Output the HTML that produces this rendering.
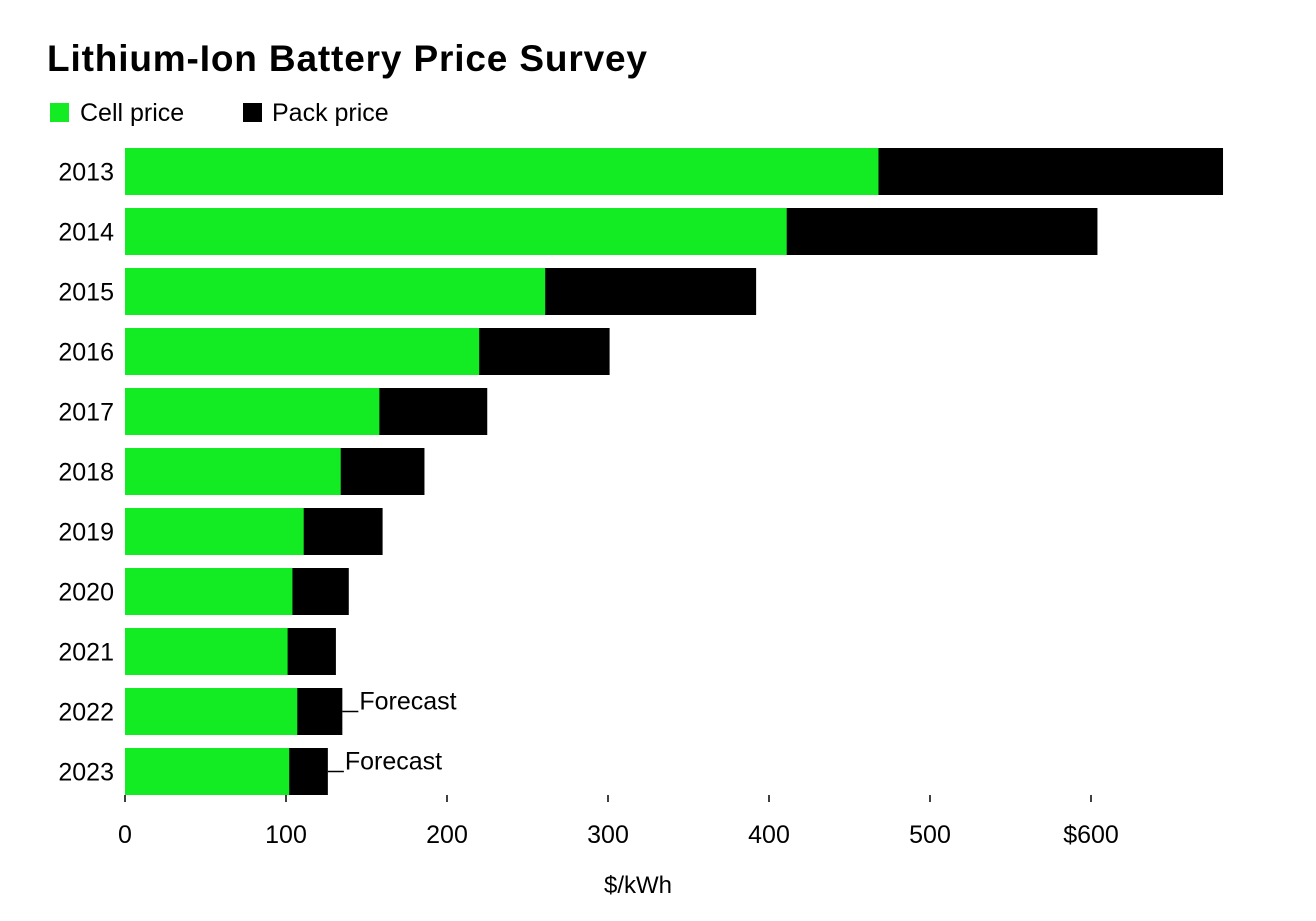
<!DOCTYPE html>
<html><head><meta charset="utf-8"><style>
body{margin:0;background:#fff;font-family:"Liberation Sans",sans-serif}
svg text{font-family:"Liberation Sans",sans-serif}
</style></head><body>
<svg id="c" width="1316" height="916">
<text x="47" y="71" font-size="37" font-weight="bold" fill="#000" textLength="600">Lithium-Ion Battery Price Survey</text>
<g>
<rect x="50" y="103" width="19" height="19" fill="#13eb22"/>
<text x="80" y="121" font-size="25">Cell price</text>
<rect x="243" y="103" width="19" height="19" fill="#000"/>
<text x="272" y="121" font-size="25">Pack price</text>
</g>
<text x="638" y="893" font-size="24" text-anchor="middle">$/kWh</text>
</svg>
<script>
const years=['2013','2014','2015','2016','2017','2018','2019','2020','2021','2022','2023'];
const cellPrice=[468,411,261,220,158,134,111,104,101,107,102];
const packPrice=[682,604,392,301,225,186,160,139,131,135,126];
const forecastYears=['2022','2023'];
const xTicks=[0,100,200,300,400,500,600];
const xTickLabels=['0','100','200','300','400','500','$600'];
const svg=document.getElementById('c');
const NS='http://www.w3.org/2000/svg';
const x=v=>125+v*1.61;
const y=i=>148+i*60;
const BH=47;
function mk(t,a){const e=document.createElementNS(NS,t);for(const k in a)e.setAttribute(k,a[k]);svg.appendChild(e);return e;}
years.forEach((yr,i)=>{
  const p=mk('rect',{x:x(0),y:y(i),width:x(packPrice[i])-x(0),height:BH,fill:'#000'});
  
  
  const c=mk('rect',{x:x(0),y:y(i),width:x(cellPrice[i])-x(0),height:BH,fill:'#13eb22'});
  
  
  const t=mk('text',{x:114,y:y(i)+BH/2+9,'font-size':25,'text-anchor':'end'});
  t.textContent=yr;
  
  
  if(forecastYears.includes(yr)){
    const ex=x(packPrice[i]);
    const l=mk('line',{x1:ex,x2:ex+16,y1:y(i)+BH/2,y2:y(i)+BH/2,stroke:'#000','stroke-width':1.5});
    
    
    const f=mk('text',{x:ex+17,y:y(i)+BH/2-2,'font-size':25});
    f.textContent='Forecast';
    
    
  }
});
xTicks.forEach((v,i)=>{
  const l=mk('line',{x1:x(v),x2:x(v),y1:795,y2:802,stroke:'#000','stroke-width':1.5});
  
  
  const t=mk('text',{x:x(v),y:843,'font-size':25,'text-anchor':'middle'});
  t.textContent=xTickLabels[i];
  
  
});
</script>
</body></html>
